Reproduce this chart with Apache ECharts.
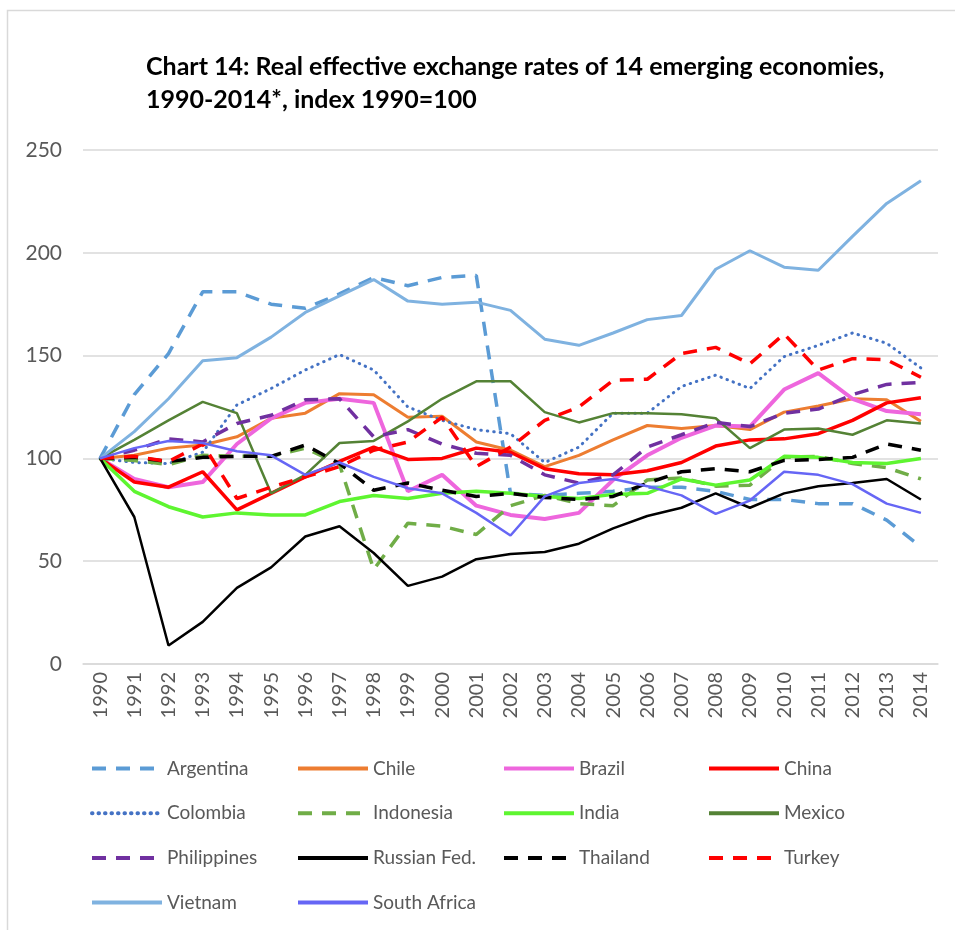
<!DOCTYPE html>
<html>
<head>
<meta charset="utf-8">
<script src="https://cdn.jsdelivr.net/npm/echarts@6/dist/echarts.min.js"></script>
<style>
  html, body { margin: 0; padding: 0; background: #fff; }
  #chart { width: 955px; height: 930px; }
</style>
</head>
<body>
<div id="chart"></div>
<script>
// years on the category axis
var years = ['1990','1991','1992','1993','1994','1995','1996','1997','1998','1999','2000','2001','2002',
  '2003','2004','2005','2006','2007','2008','2009','2010','2011','2012','2013','2014'];

// index values, 1990 = 100
var argentina   = [100,131,151,181,181,175,173,180,188,184,188,189,83,82,83,84,86,86,84,80,80,78,78,70,57];
var chile       = [100,101.5,105,106.5,110.5,119.5,122,131.5,131,120,120.5,108,104,96,101.5,109,116,114.5,116,114,122.5,125.5,129,128.5,118];
var brazil      = [100,90,86,88.5,107,119.5,127,129,127,84,92,77,72.5,70.5,73.5,89.5,101.5,110,116,115.5,133.5,141.5,129,123,121.5];
var china       = [100,88.5,86,93.5,75,83,91,98.5,105.5,99.5,100,105,103,95,92.5,92,94,98,106,109,109.5,112,118.5,127,129.5];
var colombia    = [100,98,97.5,103,126,134,143,150.5,143,125,118.5,114,112,98,105.5,122,122,135,140.5,134,149.5,155,161,156,144];
var indonesia   = [100,99,97,101.5,101,101,105,97,46,68.5,67,63,77,82,78,77,89.5,90.5,86.5,87,100.5,101,97.5,95.5,90];
var india       = [100,84,76.5,71.5,73.5,72.5,72.5,79,82,80.5,83,84,83,81.5,80.5,82.5,83,90,87,89.5,101,100.5,98,97.5,100];
var mexico      = [100,109,118.5,127.5,122,83,92,107.5,108.5,118,129,137.5,137.5,122.5,117.5,122,122,121.5,119.5,105,114,114.5,111.5,118.5,117];
var philippines = [100,104,109.5,108,117,121,128.5,129,110.5,114,107,102.5,101.5,92,88,92,105.5,111.5,117.5,115.5,122,124,131,136,137];
var russia      = [100,71.5,9,20.5,37,47,62,67,54,38,42.5,51,53.5,54.5,58.5,66,72,76,83,76,83,86.5,88,90,80];
var thailand    = [100,100.5,98.5,100.5,101,101,106.5,97.5,84.5,88,84.5,81.5,83,81,80,81.5,88,93.5,95,93.5,99,99.5,100.5,107,104];
var turkey      = [100,101,98.5,107,80.5,86,91,96,104,108,120,96,105.5,118.5,125,138,138.5,151,154,146,160.5,143,148.5,148,139.5];
var vietnam     = [100,113,129,147.5,149,159,171,179,187,176.5,175,176,172,158,155,161,167.5,169.5,192,201,193,191.5,208,224,235];
var southAfrica = [100,105,108.5,107.5,103.5,101.5,92,98,91,85.5,83,73.5,62.5,81.5,88,90,86.5,82,73,79.5,93.5,92,87.5,78,73.5];

var FONT = 'Lato, "Open Sans", sans-serif';
var DASH = [14, 10];

function line(name, data, color, width, type, cap) {
  return {
    name: name,
    type: 'line',
    data: data,
    symbol: 'none',
    showSymbol: false,
    lineStyle: { color: color, width: width, type: type || 'solid', cap: cap || 'butt' },
    itemStyle: { color: color }
  };
}

function legendCol(left, names) {
  return {
    orient: 'vertical',
    left: left,
    top: 754,
    itemWidth: 70,
    itemHeight: 14,
    itemGap: 25.7,
    data: names.map(function (n) { return { name: n, lineStyle: { width: 4 } }; }),
    itemStyle: { opacity: 0 },
    textStyle: { fontFamily: FONT, fontSize: 19, color: '#595959', padding: [0, 0, 0, 0] }
  };
}

var chart = echarts.init(document.getElementById('chart'));
var option = {
  animation: false,
  backgroundColor: '#fff',
  title: {
    text: 'Chart 14: Real effective exchange rates of 14 emerging economies,\n1990-2014*, index 1990=100',
    left: 141,
    top: 45,
    textStyle: { fontFamily: FONT, fontSize: 25, fontWeight: 'bold', color: '#000', lineHeight: 33 }
  },
  graphic: [{
    type: 'rect',
    shape: { x: 7.5, y: 10.5, width: 1200, height: 1200 },
    style: { fill: 'none', stroke: '#d9d9d9', lineWidth: 1.5 },
    silent: true
  }],
  legend: [
    legendCol(85, ['Argentina', 'Colombia', 'Philippines', 'Vietnam']),
    legendCol(291, ['Chile', 'Indonesia', 'Russian Fed.', 'South Africa']),
    legendCol(497, ['Brazil', 'India', 'Thailand']),
    legendCol(702, ['China', 'Mexico', 'Turkey'])
  ],
  grid: { left: 83, right: 17, top: 150, bottom: 266 },
  xAxis: {
    type: 'category',
    data: years,
    boundaryGap: true,
    axisLine: { lineStyle: { color: '#d9d9d9', width: 1.5 } },
    axisTick: { show: false },
    axisLabel: { rotate: 90, fontFamily: FONT, fontSize: 20, color: '#595959', margin: 8, interval: 0 }
  },
  yAxis: {
    type: 'value',
    min: 0,
    max: 250,
    interval: 50,
    axisLine: { show: false },
    axisTick: { show: false },
    axisLabel: { fontFamily: FONT, fontSize: 21, color: '#595959', margin: 21 },
    splitLine: { lineStyle: { color: '#d9d9d9', width: 1.5 } }
  },
  series: [
    line('Argentina', argentina, '#5b9bd5', 3.5, DASH),
    line('Chile', chile, '#ed7d31', 3),
    line('Brazil', brazil, '#ee66dd', 4),
    line('China', china, '#ff0000', 3.5),
    line('Colombia', colombia, '#4472c4', 3, [0.5, 6], 'round'),
    line('Indonesia', indonesia, '#70ad47', 3.5, DASH),
    line('India', india, '#5ef530', 3.5),
    line('Mexico', mexico, '#548235', 2.5),
    line('Philippines', philippines, '#7030a0', 3.5, DASH),
    line('Russian Fed.', russia, '#000000', 2.5),
    line('Thailand', thailand, '#000000', 3.5, DASH),
    line('Turkey', turkey, '#ff0000', 3.5, DASH),
    line('Vietnam', vietnam, '#7fb2e0', 3),
    line('South Africa', southAfrica, '#6666f5', 2.5)
  ]
};
chart.setOption(option);
</script>
</body>
</html>
